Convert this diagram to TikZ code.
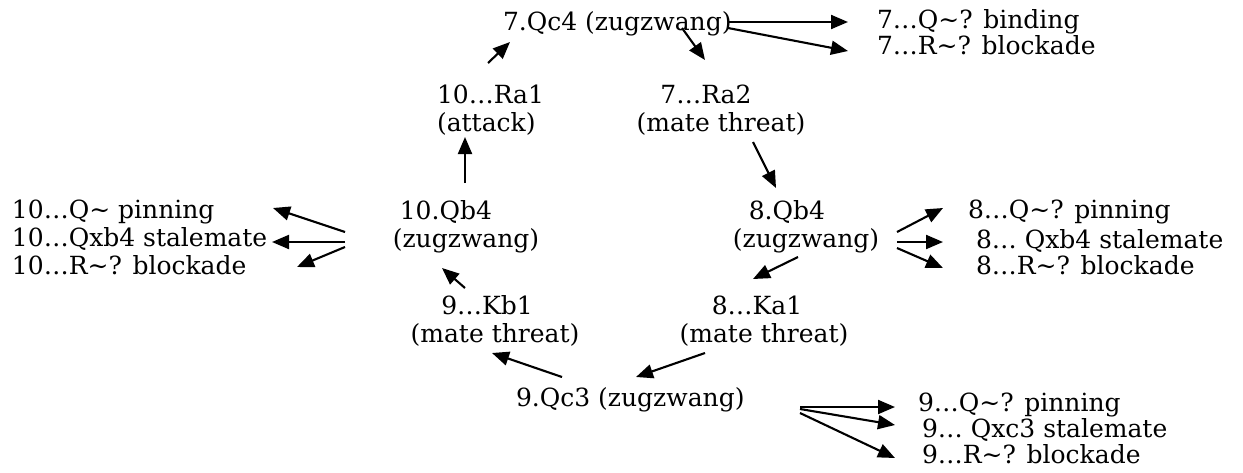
\documentclass[tikz,border=0pt]{standalone}
\usepackage{fontspec}
\setmainfont{DejaVu Serif}
\usetikzlibrary{arrows.meta}
\newcommand{\tl}{\textasciitilde}
\begin{document}
\begin{tikzpicture}[x=1pt,y=-1pt,
  lbl/.style={inner sep=0pt,outer sep=0pt,font=\fontsize{25}{28}\selectfont,text height=18pt,text depth=5pt,anchor=west},
  two/.style={inner sep=0pt,outer sep=0pt,font=\fontsize{25}{28}\selectfont},
  arr/.style={line width=2.1pt,-{Triangle[length=17pt,width=14pt]}}]
\useasboundingbox (0,0) rectangle (1243,472);
% nodes
\node[lbl] (A) at (503,24) {7.Qc4 (zugzwang)};
\node[lbl] (B1) at (877,22) {7…Q\tl? binding};
\node[lbl] (B2) at (877,48) {7…R\tl? blockade};
\node[two,align=left,anchor=west] (C) at (437,110) {10…Ra1\\(attack)};
\node[two,align=center] (D) at (721,110) {7…Ra2\hspace*{30pt}\\(mate threat)};
\node[two,align=left] (E) at (466,227) {\hspace*{7pt}10.Qb4\\(zugzwang)};
\node[lbl] (L1) at (12,212) {10…Q\tl{} pinning};
\node[lbl] (L2) at (12,240) {10…Qxb4 stalemate};
\node[lbl] (L3) at (12,268) {10…R\tl? blockade};
\node[two,align=left] (F) at (806,227) {\hspace*{16pt}8.Qb4\\(zugzwang)};
\node[lbl] (R1) at (968,212) {8…Q\tl? pinning};
\node[lbl] (R2) at (976,242) {8… Qxb4 stalemate};
\node[lbl] (R3) at (976,268) {8…R\tl? blockade};
\node[two,align=center] (G) at (764,321) {8…Ka1\hspace*{14pt}\\(mate threat)};
\node[two,align=center] (H) at (495,321) {9…Kb1\hspace*{16pt}\\(mate threat)};
\node[lbl] (I) at (516,400) {9.Qc3 (zugzwang)};
\node[lbl] (S1) at (918,405) {9…Q\tl? pinning};
\node[lbl] (S2) at (922,431) {9… Qxc3 stalemate};
\node[lbl] (S3) at (922,457) {9…R\tl? blockade};
% connectors
\draw[arr] ([shift={(225,-2)}]A.west) -- ([shift={(-29,0)}]B1.west);
\draw[arr] ([shift={(225,4)}]A.west) -- ([shift={(-29,3)}]B2.west);
\draw[arr] ([shift={(51,-47)}]C.west) -- ([shift={(7,18)}]A.west);
\draw[arr] ([shift={(179,4)}]A.west) -- ([shift={(-16,-50)}]D.center);
\draw[arr] ([shift={(32,32)}]D.center) -- ([shift={(-30,-39)}]F.center);
\draw[arr] ([shift={(-1,-44)}]E.center) -- ([shift={(28,27)}]C.west);
\draw[arr] ([shift={(-121,5)}]E.center) -- ([shift={(261,-4)}]L1.west);
\draw[arr] ([shift={(-121,15)}]E.center) -- ([shift={(260,2)}]L2.west);
\draw[arr] ([shift={(-121,20)}]E.center) -- ([shift={(285,-1)}]L3.west);
\draw[arr] ([shift={(91,5)}]F.center) -- ([shift={(-25,-4)}]R1.west);
\draw[arr] ([shift={(91,15)}]F.center) -- ([shift={(-33,0)}]R2.west);
\draw[arr] ([shift={(91,21)}]F.center) -- ([shift={(-33,0)}]R3.west);
\draw[arr] ([shift={(-8,30)}]F.center) -- ([shift={(-11,-42)}]G.center);
\draw[arr] ([shift={(-59,32)}]G.center) -- ([shift={(120,-23)}]I.west);
\draw[arr] ([shift={(46,-23)}]I.west) -- ([shift={(-3,32)}]H.center);
\draw[arr] ([shift={(-30,-33)}]H.center) -- ([shift={(-24,41)}]E.center);
\draw[arr] ([shift={(284,7)}]I.west) -- ([shift={(-23,2)}]S1.west);
\draw[arr] ([shift={(284,9)}]I.west) -- ([shift={(-27,-6)}]S2.west);
\draw[arr] ([shift={(284,13)}]I.west) -- ([shift={(-27,1)}]S3.west);
\end{tikzpicture}
\end{document}
